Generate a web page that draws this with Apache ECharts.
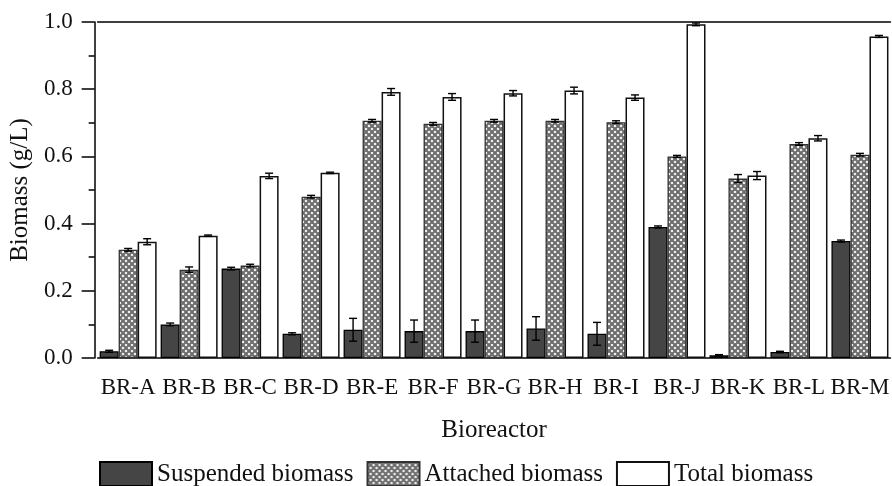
<!DOCTYPE html>
<html>
<head>
<meta charset="utf-8">
<script src="https://cdn.jsdelivr.net/npm/echarts@6/dist/echarts.min.js"></script>
<style>
  html, body { margin: 0; padding: 0; background: #fff; }
  #chart { width: 892px; height: 486px; }
</style>
</head>
<body>
<div id="chart"></div>
<script>
"use strict";

const categories = ['BR-A', 'BR-B', 'BR-C', 'BR-D', 'BR-E', 'BR-F', 'BR-G', 'BR-H', 'BR-I', 'BR-J', 'BR-K', 'BR-L', 'BR-M'];
const suspended = [0.020, 0.100, 0.266, 0.072, 0.084, 0.080, 0.080, 0.088, 0.072, 0.390, 0.008, 0.018, 0.348];
const suspendedErr = [0.003, 0.004, 0.004, 0.003, 0.034, 0.033, 0.033, 0.035, 0.034, 0.003, 0.002, 0.002, 0.003];
const attached = [0.322, 0.263, 0.275, 0.480, 0.706, 0.697, 0.706, 0.706, 0.702, 0.600, 0.534, 0.637, 0.605];
const attachedErr = [0.004, 0.008, 0.004, 0.004, 0.004, 0.004, 0.004, 0.004, 0.004, 0.003, 0.012, 0.004, 0.004];
const total = [0.346, 0.364, 0.542, 0.551, 0.792, 0.777, 0.788, 0.796, 0.775, 0.993, 0.543, 0.654, 0.957];
const totalErr = [0.009, 0.002, 0.008, 0.002, 0.010, 0.010, 0.008, 0.010, 0.008, 0.004, 0.012, 0.008, 0.003];
const seriesNames = ['Suspended biomass', 'Attached biomass', 'Total biomass'];

const FONT = "'Liberation Serif', 'DejaVu Serif', serif";
const BAR_W = 19;

// crosshatch fill for the attached biomass bars
function hatch() {
    const c = document.createElement('canvas');
    c.width = 6; c.height = 6;
    const ctx = c.getContext('2d');
    ctx.fillStyle = '#ffffff';
    ctx.fillRect(0, 0, 6, 6);
    ctx.strokeStyle = '#6e6e6e';
    ctx.lineWidth = 2.1;
    for (let k = -6; k <= 12; k += 6) {
        ctx.beginPath(); ctx.moveTo(k, 0); ctx.lineTo(k + 6, 6); ctx.stroke();
        ctx.beginPath(); ctx.moveTo(k + 6, 0); ctx.lineTo(k, 6); ctx.stroke();
    }
    return { image: c, repeat: 'repeat' };
}

const errData = [];
[[suspended, suspendedErr], [attached, attachedErr], [total, totalErr]].forEach(([vals, errs], g) => {
    vals.forEach((v, i) => errData.push([i, v - errs[i], v + errs[i], g]));
});

const chart = echarts.init(document.getElementById('chart'), null, { renderer: 'canvas' });

const option = {
    backgroundColor: '#fff',
    animation: false,
    textStyle: { fontFamily: FONT, color: '#111' },
    grid: { left: 96, right: -6, top: 22, bottom: 128 },
    legend: {
        data: seriesNames,
        left: 99,
        top: 461,
        padding: 0,
        itemWidth: 52,
        itemHeight: 24,
        itemGap: 13,
        icon: 'rect',
        textStyle: { fontFamily: FONT, fontSize: 25, color: '#111' }
    },
    xAxis: [
        {
            type: 'category',
            data: categories,
            name: 'Bioreactor',
            nameLocation: 'middle',
            nameGap: 60,
            nameTextStyle: { fontFamily: FONT, fontSize: 25, color: '#111' },
            axisLine: { lineStyle: { color: '#000', width: 1.5 } },
            axisTick: { alignWithLabel: true, length: 13, lineStyle: { color: '#000', width: 1.5 } },
            axisLabel: { margin: 18, fontFamily: FONT, fontSize: 23, color: '#111', interval: 0 }
        },
        {
            type: 'category',
            data: categories,
            position: 'top',
            axisLine: { lineStyle: { color: '#000', width: 1.5 } },
            axisTick: { show: false },
            axisLabel: { show: false }
        }
    ],
    yAxis: {
        type: 'value',
        min: 0,
        max: 1,
        interval: 0.2,
        offset: 3,
        name: 'Biomass (g/L)',
        nameLocation: 'middle',
        nameGap: 60,
        nameTextStyle: { fontFamily: FONT, fontSize: 25, color: '#111' },
        axisLine: { show: true, lineStyle: { color: '#000', width: 1.5 } },
        axisTick: { show: true, length: 13, lineStyle: { color: '#000', width: 1.5 } },
        minorTick: { show: true, splitNumber: 2, length: 6, lineStyle: { color: '#000', width: 1.5 } },
        splitLine: { show: false },
        axisLabel: {
            margin: 22,
            fontFamily: FONT,
            fontSize: 23,
            color: '#111',
            formatter: v => v.toFixed(1)
        }
    },
    series: [
        {
            name: seriesNames[0],
            type: 'bar',
            data: suspended,
            barWidth: BAR_W,
            barGap: '0%',
            itemStyle: { color: '#454545', borderColor: '#000', borderWidth: 1.3 }
        },
        {
            name: seriesNames[1],
            type: 'bar',
            data: attached,
            barWidth: BAR_W,
            barGap: '0%',
            itemStyle: { color: hatch(), borderColor: '#333', borderWidth: 1.3 }
        },
        {
            name: seriesNames[2],
            type: 'bar',
            data: total,
            barWidth: BAR_W,
            barGap: '0%',
            itemStyle: { color: '#fff', borderColor: '#111', borderWidth: 1.5 }
        },
        {
            type: 'custom',
            z: 10,
            silent: true,
            encode: { x: 0, y: [1, 2] },
            data: errData,
            renderItem: (params, api) => {
                const idx = api.value(0);
                const lo = api.coord([idx, api.value(1)]);
                const hi = api.coord([idx, api.value(2)]);
                const x = lo[0] + (api.value(3) - 1) * BAR_W;
                const st = { stroke: '#000', lineWidth: 1.4 };
                return {
                    type: 'group',
                    children: [
                        { type: 'line', shape: { x1: x, y1: lo[1], x2: x, y2: hi[1] }, style: st },
                        { type: 'line', shape: { x1: x - 4, y1: lo[1], x2: x + 4, y2: lo[1] }, style: st },
                        { type: 'line', shape: { x1: x - 4, y1: hi[1], x2: x + 4, y2: hi[1] }, style: st }
                    ]
                };
            }
        }
    ]
};

chart.setOption(option);
</script>
</body>
</html>
